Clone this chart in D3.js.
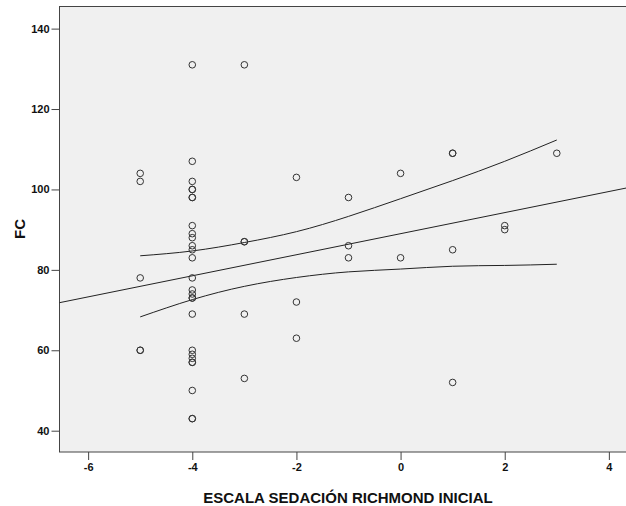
<!DOCTYPE html>
<html>
<head>
<meta charset="utf-8">
<script src="https://cdn.jsdelivr.net/npm/d3@7"></script>
<style>
  body { margin: 0; background: #fff; }
  svg { display: block; font-family: "Liberation Sans", Arial, sans-serif; }
</style>
</head>
<body>
<div id="chart"></div>
<script>
// Richmond score (x) and FC (y) for each patient
const richmond = [
  -5, -5, -5, -5, -5,
  -4, -4, -4, -4, -4, -4, -4, -4, -4, -4, -4, -4, -4, -4, -4, -4, -4, -4, -4, -4, -4, -4, -4, -4, -4, -4, -4,
  -3, -3, -3, -3, -3,
  -2, -2, -2,
  -1, -1, -1,
  0, 0,
  1, 1, 1, 1,
  2, 2,
  3
]
const fc = [
  104, 102, 78, 60, 60,
  131, 107, 102, 100, 100, 98, 98, 91, 89, 88, 86, 85, 83, 78, 75, 74, 73, 73, 69, 60, 59, 58, 57, 57, 50, 43, 43,
  131, 87, 87, 69, 53,
  103, 72, 63,
  98, 86, 83,
  104, 83,
  109, 109, 85, 52,
  91, 90,
  109
]

// fit line and 95% band at each score
const fitIntercept = 89.0
const fitSlope = 2.62
const bandX = [-5, -4, -3, -2, -1, 0, 1, 2, 3]
const bandUpper = [83.5, 84.7, 86.8, 89.5, 93.3, 97.7, 102.2, 107.0, 112.3]
const bandLower = [68.3, 72.6, 75.9, 78.1, 79.5, 80.2, 80.9, 81.1, 81.4]

const xTicks = [-6, -4, -2, 0, 2, 4]
const yTicks = [40, 60, 80, 100, 120, 140]

const width = 626, height = 506
const plotLeft = 59.5, plotTop = 6.5, plotBottom = 452

const x = d3.scaleLinear().domain([-6.55, 4.5]).range([plotLeft, 634.9])
const y = d3.scaleLinear().domain([34.7, 145.5]).range([plotBottom, plotTop])

const svg = d3.select("#chart").append("svg")
    .attr("width", width)
    .attr("height", height)

svg.append("rect")
    .attr("x", plotLeft)
    .attr("y", plotTop)
    .attr("width", 700)
    .attr("height", plotBottom - plotTop)
    .attr("fill", "#f0f0f0")
    .attr("stroke", "#444")
    .attr("stroke-width", 1)

const plot = svg.append("g")

// regression line over the whole axis
const xd = x.domain()
plot.append("line")
    .attr("x1", x(xd[0])).attr("y1", y(fitIntercept + fitSlope * xd[0]))
    .attr("x2", x(xd[1])).attr("y2", y(fitIntercept + fitSlope * xd[1]))
    .attr("stroke", "#222")
    .attr("stroke-width", 1)

const band = d3.line()
    .x(d => x(d[0]))
    .y(d => y(d[1]))
    .curve(d3.curveNatural)

plot.append("path")
    .attr("d", band(bandX.map((v, i) => [v, bandUpper[i]])))
    .attr("fill", "none").attr("stroke", "#222").attr("stroke-width", 1)
plot.append("path")
    .attr("d", band(bandX.map((v, i) => [v, bandLower[i]])))
    .attr("fill", "none").attr("stroke", "#222").attr("stroke-width", 1)

plot.selectAll("circle")
    .data(richmond.map((v, i) => [v, fc[i]]))
    .join("circle")
    .attr("cx", d => x(d[0]))
    .attr("cy", d => y(d[1]))
    .attr("r", 3.3)
    .attr("fill", "none")
    .attr("stroke", "#333")
    .attr("stroke-width", 1)

// axes
const xAxis = svg.append("g")
    .attr("transform", `translate(0,${plotBottom})`)
    .call(d3.axisBottom(x).tickValues(xTicks).tickSize(8).tickPadding(3).tickFormat(d3.format("d")))
const yAxis = svg.append("g")
    .attr("transform", `translate(${plotLeft},0)`)
    .call(d3.axisLeft(y).tickValues(yTicks).tickSize(8).tickPadding(2).tickFormat(d3.format("d")))

for (const ax of [xAxis, yAxis]) {
    ax.select(".domain").remove()
    ax.selectAll(".tick line").attr("stroke", "#444")
    ax.selectAll(".tick text")
        .attr("fill", "#111")
        .style("font-family", "'Liberation Sans', Arial, sans-serif")
        .style("font-size", "11px")
        .style("font-weight", "bold")
}
xAxis.selectAll(".tick text").text(d => d < 0 ? "-" + Math.abs(d) : d)

svg.append("text")
    .attr("x", 348)
    .attr("y", 503)
    .attr("text-anchor", "middle")
    .style("font-size", "15px")
    .style("font-weight", "bold")
    .attr("fill", "#111")
    .text("ESCALA SEDACIÓN RICHMOND INICIAL")

svg.append("text")
    .attr("transform", "translate(25,229) rotate(-90)")
    .attr("text-anchor", "middle")
    .style("font-size", "15px")
    .style("font-weight", "bold")
    .attr("fill", "#111")
    .text("FC")
</script>
</body>
</html>
